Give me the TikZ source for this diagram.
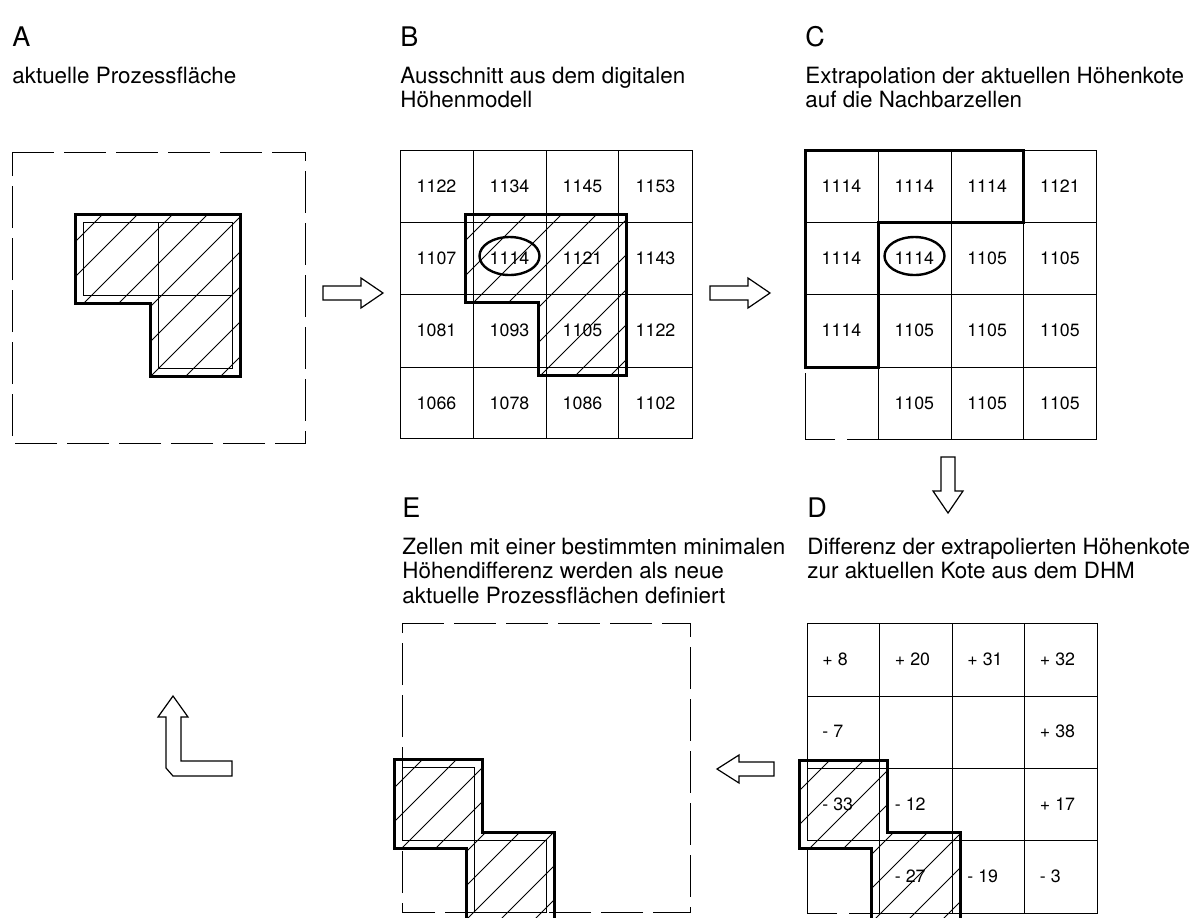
\documentclass[tikz,border=0pt]{standalone}
\usepackage{fontspec}
\setmainfont{TeX Gyre Heros}
\newcommand\myhatch[3]{\foreach \c in {#1,#2,...,#3}{\draw[hatchline] (\c,0) -- ({\c-1000},1000);}}
\begin{document}
\begin{tikzpicture}[x=0.5pt,y=-0.5pt,
  gridline/.style={line width=0.5pt},
  thickline/.style={line width=1.5pt, line join=miter},
  dashbox/.style={line width=0.5pt, dash pattern=on 21pt off 5pt},
  hatchline/.style={line width=0.45pt},
  ring/.style={line width=1.2pt},
  num/.style={font=\fontsize{8.9}{10}\selectfont, inner sep=0pt},
  dnum/.style={num, anchor=west},
  head/.style={font=\fontsize{13.5}{16}\selectfont, anchor=base west, inner sep=0pt},
  sub/.style={font=\fontsize{11.2}{13}\selectfont, anchor=base west, inner sep=0pt},
  blockarrow/.style={line width=0.6pt, line join=miter, fill=white}]
\useasboundingbox (0,0) rectangle (1192,917);
\begin{scope}
\clip (0,0) rectangle (1192,917);

% ---------------- headings ----------------
\node[head] (hA) at (12,46) {A};
\node[sub] (sA1) at (12,83) {aktuelle Prozessfläche};
\node[head] (hB) at (400,46) {B};
\node[sub] (sB1) at (400,83) {Ausschnitt aus dem digitalen};
\node[sub] (sB2) at (400,107) {Höhenmodell};
\node[head] (hC) at (805,46) {C};
\node[sub] (sC1) at (805,83) {Extrapolation der aktuellen Höhenkote};
\node[sub] (sC2) at (805,107) {auf die Nachbarzellen};
\node[head] (hE) at (402,517) {E};
\node[sub] (sE1) at (402,554) {Zellen mit einer bestimmten minimalen};
\node[sub] (sE2) at (402,578.5) {Höhendifferenz werden als neue};
\node[sub] (sE3) at (402,603) {aktuelle Prozessflächen definiert};
\node[head] (hD) at (807,517) {D};
\node[sub] (sD1) at (807,554) {Differenz der extrapolierten Höhenkote};
\node[sub] (sD2) at (807,578.5) {zur aktuellen Kote aus dem DHM};

% ---------------- panel A ----------------
\draw[dashbox] (12,152) -- (305,152) -- (305,443) -- (12,443) -- cycle;
\begin{scope}
  \clip (75,214) -- (240,214) -- (240,376) -- (150,376) -- (150,303) -- (75,303) -- cycle;
  \myhatch{282}{317}{640}
\end{scope}
\draw[gridline] (83,222) rectangle (158,295);
\draw[gridline] (158,222) rectangle (232,295);
\draw[gridline] (158,295) rectangle (232,368);
\draw[thickline] (75,214) -- (240,214) -- (240,376) -- (150,376) -- (150,303) -- (75,303) -- cycle;

% ---------------- panel B ----------------
\begin{scope}
  \clip (465,214) -- (626,214) -- (626,375) -- (538,375) -- (538,302) -- (465,302) -- cycle;
  \myhatch{671}{706}{1030}
\end{scope}
\draw[gridline] (400,150) rectangle (692,438);
\foreach \gx in {473,546,618} \draw[gridline] (\gx,150) -- (\gx,438);
\foreach \gy in {222,294,367} \draw[gridline] (400,\gy) -- (692,\gy);
\draw[thickline] (465,214) -- (626,214) -- (626,375) -- (538,375) -- (538,302) -- (465,302) -- cycle;
\foreach \t [count=\k from 0] in {1122,1134,1145,1153,1107,1114,1121,1143,1081,1093,1105,1122,1066,1078,1086,1102}{
  \pgfmathtruncatemacro\cc{mod(\k,4)}
  \pgfmathtruncatemacro\rr{div(\k,4)}
  \node[num] (B\k) at ({436.5+73*\cc},{186+72.3*\rr}) {\t};
}
\draw[ring] (509.5,256) ellipse [x radius=15pt, y radius=9.5pt];

% ---------------- panel C ----------------
\draw[gridline] (805,150) -- (1096,150) -- (1096,439) -- (878,439);
\foreach \gx in {878,951,1023} \draw[gridline] (\gx,150) -- (\gx,439);
\foreach \gy in {222,294} \draw[gridline] (805,\gy) -- (1096,\gy);
\draw[gridline] (805,367) -- (1096,367);
\draw[gridline] (878,439) -- (847,439);
\draw[gridline] (835,439) -- (805,439) -- (805,373);
\draw[thickline] (805,150) -- (1023,150) -- (1023,222) -- (878,222) -- (878,367) -- (805,367) -- cycle;
\foreach \cc/\rr/\t in {0/0/1114,1/0/1114,2/0/1114,3/0/1121,
                         0/1/1114,1/1/1114,2/1/1105,3/1/1105,
                         0/2/1114,1/2/1105,2/2/1105,3/2/1105,
                         1/3/1105,2/3/1105,3/3/1105}{
  \node[num] (C\cc\rr) at ({841.5+72.8*\cc},{186+72.3*\rr}) {\t};
}
\draw[ring] (914.5,256) ellipse [x radius=15pt, y radius=9.5pt];

% ---------------- panel D ----------------
\begin{scope}
  \clip (799,760) -- (887,760) -- (887,832) -- (960,832) -- (960,921) -- (871,921) -- (871,848) -- (799,848) -- cycle;
  \myhatch{1556}{1590}{1900}
\end{scope}
\draw[gridline] (807,623) -- (1097,623) -- (1097,913) -- (879,913);
\draw[gridline] (807,623) -- (807,840);
\foreach \gx in {879,952,1024} \draw[gridline] (\gx,623) -- (\gx,913);
\foreach \gy in {696,768,840} \draw[gridline] (807,\gy) -- (1097,\gy);
\draw[gridline] (879,913) -- (849,913);
\draw[gridline] (837,913) -- (807,913) -- (807,848);
\draw[thickline] (799,760) -- (887,760) -- (887,832) -- (960,832) -- (960,921) -- (871,921) -- (871,848) -- (799,848) -- cycle;
\foreach \cc/\rr/\t in {0/0/+ 8,1/0/+ 20,2/0/+ 31,3/0/+ 32,
                         0/1/- 7,3/1/+ 38,
                         0/2/- 33,1/2/- 12,3/2/+ 17,
                         1/3/- 27,2/3/- 19,3/3/- 3}{
  \node[dnum] (D\cc\rr) at ({822+72.5*\cc},{659.5+72.3*\rr}) {\t};
}

% ---------------- panel E ----------------
\begin{scope}
  \clip (394,759) -- (482,759) -- (482,832) -- (554,832) -- (554,920) -- (466,920) -- (466,848) -- (394,848) -- cycle;
  \myhatch{1148}{1182}{1500}
\end{scope}
\draw[dashbox] (402,623) -- (690,623) -- (690,912) -- (402,912) -- cycle;
\draw[gridline] (402,767) rectangle (474,840);
\draw[gridline] (474,840) rectangle (546,912);
\draw[thickline] (394,759) -- (482,759) -- (482,832) -- (554,832) -- (554,920) -- (466,920) -- (466,848) -- (394,848) -- cycle;

% ---------------- arrows ----------------
\draw[blockarrow] (323,286) -- (361,286) -- (361,278) -- (383,293) -- (361,308) -- (361,300) -- (323,300) -- cycle;
\draw[blockarrow] (710,286) -- (748,286) -- (748,278) -- (770,293) -- (748,308) -- (748,300) -- (710,300) -- cycle;
\draw[blockarrow] (941,457) -- (955,457) -- (955,491) -- (963,491) -- (948,513) -- (933,491) -- (941,491) -- cycle;
\draw[blockarrow] (774,762) -- (739,762) -- (739,755) -- (717,769) -- (739,783) -- (739,776) -- (774,776) -- cycle;
\draw[blockarrow] (173,696) -- (188,717) -- (181,717) -- (181,761) -- (232,761) -- (232,776) -- (173,776) -- (166,768) -- (166,717) -- (158,717) -- cycle;
\end{scope}
\end{tikzpicture}
\end{document}
